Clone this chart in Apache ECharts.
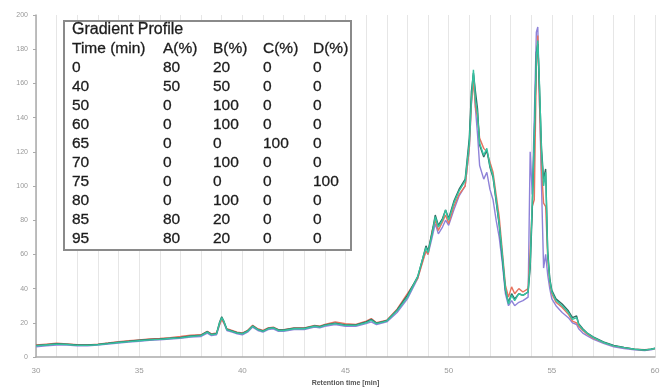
<!DOCTYPE html>
<html><head><meta charset="utf-8">
<script src="https://cdn.jsdelivr.net/npm/echarts@6/dist/echarts.min.js"></script>
<style>html,body{margin:0;padding:0;background:#fff}#c{width:670px;height:392px}</style>
</head><body><div id="c"></div>
<script>
// Retention time (min)
const times = [30,30.5,31,31.5,32,32.5,33,33.5,34,34.5,
35,35.5,36,36.5,37,37.5,38,38.3,38.5,38.75,
38.9,39.0,39.1,39.25,39.5,39.75,40,40.25,40.5,40.75,
41,41.25,41.5,41.75,42,42.5,43,43.5,43.75,44,
44.5,45,45.5,46,46.25,46.5,47,47.5,48,48.5,
48.75,48.9,49.0,49.2,49.35,49.5,49.7,49.85,50,50.25,
50.5,50.8,51.0,51.1,51.2,51.3,51.4,51.5,51.7,51.85,
52.0,52.15,52.3,52.45,52.6,52.75,52.9,53.05,53.2,53.4,
53.6,53.85,53.95,54.05,54.15,54.25,54.32,54.4,54.5,54.6,
54.7,54.8,54.9,55.0,55.2,55.5,55.8,56.0,56.2,56.3,
56.5,56.7,57,57.5,58,58.5,59,59.5,59.8,60];

const tracePurple = [6,6.5,7,7,6.5,6.5,7,7.5,8.2,8.8,
9.2,9.7,10,10.5,11,11.7,12,14,12.5,13,
19,22.5,20,15.5,14.5,13.5,13,14.5,17.5,15.5,
14.5,16,16.5,15,15,16,16,17.5,17,18,
19,18,18,19.5,20.5,19,20.5,26,34,46,
57,62,60,70,78,72,76,80,77,86,
94,100,122,148,165,145,130,112,104,108,
98,92,80,70,55,37,30,33,30,32,
33,35,120,95,140,190,193,150,100,52,
60,48,40,34,30,26,23,20,19,16.5,
14,12.5,10.5,8,6,5,4.2,3.8,4.2,4.8];

const traceRed = [7,7.5,8,7.6,7.2,7,7.5,8.2,9,9.5,
10,10.5,10.8,11.3,12,12.8,13,15,13.5,14,
19,22,20,16.5,15.5,14.5,14,15.5,18.5,16.5,
15.5,17,17.5,16,16,17,17,18.5,18,19,
20.5,19.5,19,21,22.5,20,21.5,28,37,46,
56,62,60,74,80,74,79,83,78,88,
95,100,122,148,162,146,140,128,122,120,
114,108,95,82,62,42,35,41,37,40,
38,40,62,88,92,170,188,150,110,90,
88,58,44,37,32,29,25,21,20,18,
15.5,13.5,11,8.5,6.5,5.5,4.5,4.2,4.5,5];

const traceDark = [6.8,7.2,7.8,7.5,7,7,7.4,8,8.7,9.2,
9.8,10.2,10.5,11,11.5,12.3,12.8,14.8,13.2,13.8,
20.5,23.5,21,16.2,15.2,14.2,13.8,15.2,18.2,16.2,
15.2,16.8,17.2,15.8,15.8,16.8,16.8,18.2,17.8,18.8,
19.8,18.8,18.8,20.5,22,19.8,21.2,27.5,36,47,
58,65,62,73,83,77,81,86,81,91,
98,104,128,155,166,155,145,124,117,121,
111,105,91,77,58,39,32,37,34,37,
36,38,52,85,128,178,183,158,122,104,
110,62,46,39,34,31,27,23,24,19.5,
16.5,14.2,11.8,8.8,6.8,5.6,4.6,4.1,4.6,5.2];

const traceGreen = [6.5,7,7.5,7.3,6.8,6.8,7.2,7.8,8.5,9,
9.5,10,10.3,10.8,11.2,12,12.5,14.5,13,13.5,
20,23,21,16,15,14,13.5,15,18,16,
15,16.5,17,15.5,15.5,16.5,16.5,18,17.5,18.5,
19.5,18.5,18.5,20,21.5,19.5,21,27,35,47,
58,64,61,72,82,76,80,86,80,90,
97,103,125,150,168,150,142,125,118,122,
112,106,92,78,60,40,31,36,33,37,
36,38,55,90,130,175,185,160,120,100,
108,60,45,38,33,30,26,22,23,19,
16,14,11.5,8.5,6.5,5.5,4.5,4,4.5,5];

// Gradient profile table
const tableTitle = 'Gradient Profile';
const tableHeader = ['Time (min)', 'A(%)', 'B(%)', 'C(%)', 'D(%)'];
const gradTime = ['0','40','50','60','65','70','75','80','85','95'];
const gradA = ['80','50','0','0','0','0','0','0','80','80'];
const gradB = ['20','50','100','100','0','100','0','100','20','20'];
const gradC = ['0','0','0','0','100','0','0','0','0','0'];
const gradD = ['0','0','0','0','0','0','100','0','0','0'];

const xTitle = 'Retention time [min]';

const chart = echarts.init(document.getElementById('c'), null, {renderer: 'canvas'});
const pair = arr => times.map((t, i) => [t, arr[i]]);

const font = '15.5px "Liberation Sans", Arial, sans-serif';
const txtColor = '#1c1c1c';
const colX = [72, 163, 213, 263, 313];
const elems = [{
  type: 'rect', shape: {x: 64, y: 21, width: 287, height: 229},
  style: {fill: '#fff', stroke: '#8a8a8a', lineWidth: 2}, z: 100
}, {
  type: 'text', x: colX[0], y: 30, z: 101,
  style: {text: tableTitle, font: '16px "Liberation Sans", Arial, sans-serif', fill: txtColor, stroke: txtColor, lineWidth: 0.3, textVerticalAlign: 'middle', verticalAlign: 'middle'}
}];
tableHeader.forEach((h, j) => elems.push({
  type: 'text', x: colX[j], y: 49, z: 101,
  style: {text: h, font: font, fill: txtColor, stroke: txtColor, lineWidth: 0.3, verticalAlign: 'middle', textVerticalAlign: 'middle'}
}));
const cols = [gradTime, gradA, gradB, gradC, gradD];
gradTime.forEach((_, i) => {
  cols.forEach((col, j) => elems.push({
    type: 'text', x: colX[j], y: 68 + 19 * i, z: 101,
    style: {text: col[i], font: font, fill: txtColor, stroke: txtColor, lineWidth: 0.3, verticalAlign: 'middle', textVerticalAlign: 'middle'}
  }));
});

const mk = (name, data, color) => ({
  name: name, type: 'line', data: pair(data), showSymbol: false, symbol: 'none',
  lineStyle: {width: 1.4, color: color}, itemStyle: {color: color}, silent: true
});

chart.setOption({
  animation: false,
  backgroundColor: '#fff',
  grid: {left: 36, right: 15, top: 15, bottom: 33},
  xAxis: {
    type: 'value', min: 30, max: 60, interval: 5,
    name: xTitle, nameLocation: 'middle', nameGap: 23,
    nameTextStyle: {fontSize: 7, fontWeight: 'bold', color: '#555', fontFamily: 'Liberation Sans'},
    axisLine: {show: true, lineStyle: {color: '#aaa', width: 1.5}},
    axisTick: {show: false},
    axisLabel: {fontSize: 8, color: '#999', margin: 10, fontFamily: 'Liberation Sans'},
    splitLine: {show: true, lineStyle: {color: '#e6e6e6', width: 1}},
    minorTick: {show: false, splitNumber: 5},
    minorSplitLine: {show: true, lineStyle: {color: '#e6e6e6', width: 1}}
  },
  yAxis: {
    type: 'value', min: 0, max: 200, interval: 20,
    axisLine: {show: true, lineStyle: {color: '#aaa', width: 1.5}},
    axisTick: {show: true, length: 3, lineStyle: {color: '#aaa'}},
    axisLabel: {fontSize: 7, color: '#999', margin: 8, fontFamily: 'Liberation Sans'},
    splitLine: {show: false}
  },
  series: [
    mk('Run 1', tracePurple, '#8e82d8'),
    mk('Run 2', traceRed, '#e8735f'),
    mk('Run 3', traceDark, '#2f6d63'),
    mk('Run 4', traceGreen, '#35c2a0')
  ],
  graphic: {elements: elems}
});
</script></body></html>
